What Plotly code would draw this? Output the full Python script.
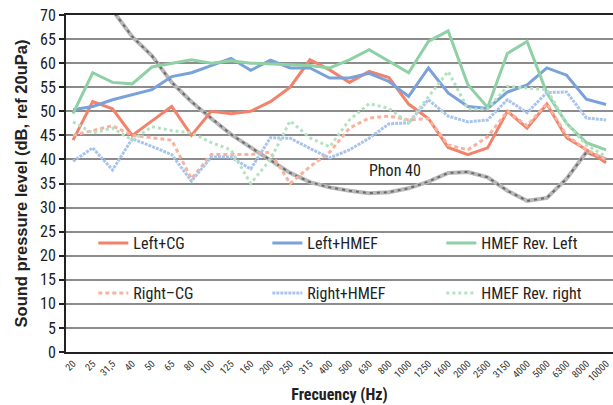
import plotly.graph_objects as go

freqs = ["20", "25", "31,5", "40", "50", "65", "80", "100", "125", "160", "200", "250", "315", "400",
         "500", "630", "800", "1000", "1250", "1600", "2000", "2500", "3150", "4000", "5000", "6300",
         "8000", "10000"]

left_cg = [44, 52, 50.5, 45, 48, 51, 45, 50, 49.5, 50, 52, 55, 60.7, 58.6, 56, 58.3, 57, 51.5, 48.5,
           42.5, 41, 42.4, 50, 46.5, 51.5, 44.5, 42, 39.3]
right_cg = [45, 46, 47, 45, 44.5, 44, 36, 41, 41, 41, 41.5, 35, 38.5, 41.5, 46.5, 48.6, 49, 48.2, 48.5,
            43, 42, 44.7, 50, 47, 51.6, 45, 42, 40]
left_hmef = [50.3, 51, 52.4, 53.5, 54.5, 57.2, 58, 59.5, 61, 58.5, 60.6, 59, 59, 56.9, 56.9, 57.9, 56.2,
             53.1, 59, 53.8, 51, 50.6, 54, 55.5, 59, 57.5, 52.5, 51.4]
right_hmef = [39.6, 42.4, 37.8, 44.3, 42.7, 41, 35.5, 40.5, 40.5, 38, 44.5, 44.4, 42.3, 40.3, 42, 44.4,
              47.4, 47.6, 52.4, 49, 47.8, 48.2, 52.4, 49.7, 53.9, 54, 48.6, 48.2]
rev_left = [49.5, 58, 56, 55.7, 59.2, 60, 60.7, 60, 60.5, 60, 59.8, 59.7, 59.5, 59, 60.7, 62.8, 60.4,
            58, 64.5, 66.7, 55.5, 50.8, 62, 64.5, 53.8, 47.5, 43.5, 42]
rev_right = [47.8, 45.5, 46.5, 44, 46.8, 46, 45.5, 43.5, 42, 35, 40, 48, 44.5, 42.6, 48.2, 51.6, 50.6,
             47.6, 53, 58.3, 50.5, 50.5, 55.2, 54.9, 54.5, 47.5, 43, 40.6]
phon40 = [82, 76.3, 71, 65.5, 61.5, 56, 52, 48.5, 45.2, 42.5, 39.8, 37.2, 35.3, 34.2, 33.5, 33, 33.2,
          34, 35.4, 37.2, 37.4, 36.3, 33.5, 31.4, 32, 36, 41.5, 40]

x = list(range(len(freqs)))
FONT = "Liberation Sans Narrow, Roboto Condensed, Arial Narrow, Liberation Sans, sans-serif"

series = [
    ("Left+CG", left_cg, "#f3826a", "solid", "legend", 129),
    ("Left+HMEF", left_hmef, "#7aa2da", "solid", "legend", 129),
    ("HMEF Rev. Left", rev_left, "#8fd0a4", "solid", "legend", 110),
    ("Right\u2013CG", right_cg, "#f8b29e", "4px,3px", "legend2", 129),
    ("Right+HMEF", right_hmef, "#a9c5ec", "3px,1px", "legend2", 129),
    ("HMEF Rev. right", rev_right, "#b3e2c3", "3px,3px", "legend2", 110),
]

fig = go.Figure()
fig.add_trace(go.Scatter(x=x, y=phon40, mode="lines", line=dict(color="#b8b8b8", width=4),
                         showlegend=False, hoverinfo="skip"))
fig.add_trace(go.Scatter(x=x, y=phon40, mode="lines", line=dict(color="#6a6a6a", width=2, dash="3px,4px"),
                         showlegend=False, hoverinfo="skip"))
for name, vals, col, dash, lg, w in series:
    fig.add_trace(go.Scatter(x=x, y=vals, mode="lines", name=name,
                             line=dict(color=col, width=3, dash=dash),
                             legend=lg, legendwidth=w))

fig.add_annotation(x=16.3, y=37.6, xref="x", yref="y", text="Phon 40", showarrow=False,
                   font=dict(family=FONT, size=16, color="#222"))

legend_common = dict(orientation="h", xanchor="left", yanchor="middle", bgcolor="rgba(0,0,0,0)",
                     font=dict(family=FONT, size=16, color="#222"), itemwidth=30,
                     entrywidthmode="pixels")
fig.update_layout(
    width=613, height=405,
    margin=dict(l=66, r=0, t=15, b=53),
    paper_bgcolor="white", plot_bgcolor="white",
    font=dict(family=FONT, color="#222"),
    legend=dict(x=0.05, y=0.323, **legend_common),
    legend2=dict(x=0.05, y=0.175, **legend_common),
    xaxis=dict(range=[-0.355, 27.35], tickmode="array", tickvals=x, ticktext=freqs, tickangle=-45,
               tickfont=dict(size=10, family=FONT, color="#333"), showgrid=False, zeroline=False,
               showline=True, linecolor="#222", linewidth=2, mirror=True, ticks="",
               title=dict(text="<b>Frecuency (Hz)</b>", font=dict(size=16, family=FONT), standoff=6)),
    yaxis=dict(range=[0, 70], dtick=5, tick0=0, showgrid=True, gridcolor="#8c8c8c", gridwidth=2,
               zeroline=False, showline=True, linecolor="#222", linewidth=2, ticks="outside",
               ticklen=5, tickwidth=2, tickcolor="#222", tickfont=dict(size=16, family=FONT, color="#222"),
               title=dict(text="<b>Sound pressure level (dB, ref 20uPa)</b>",
                          font=dict(size=16.5, family="Liberation Sans, Arial, sans-serif"), standoff=8)),
)

fig.write_html("out.html")
